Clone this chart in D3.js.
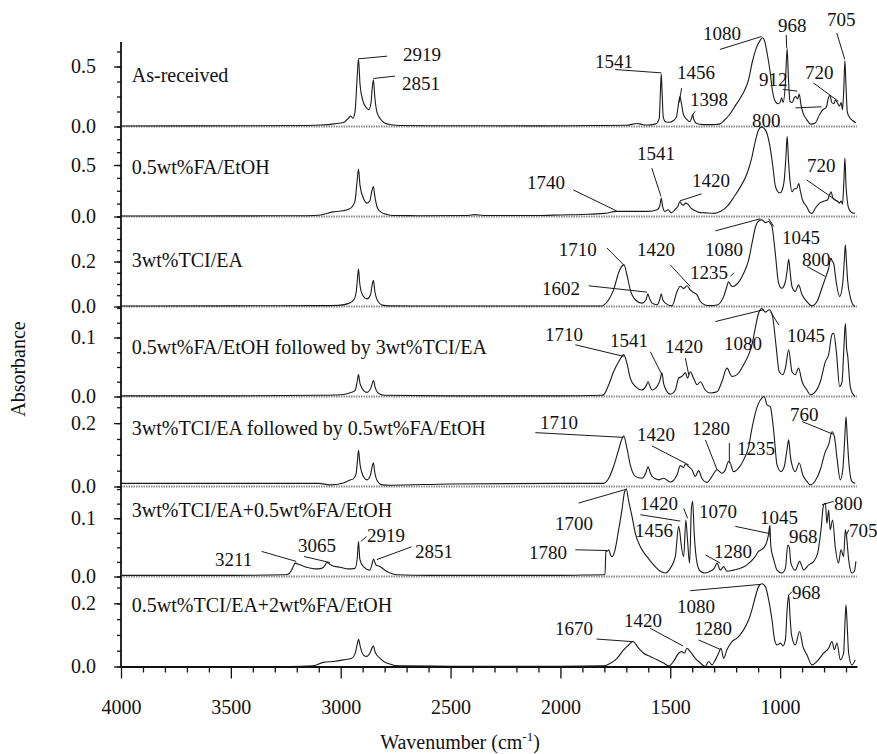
<!DOCTYPE html>
<html>
<head>
<meta charset="utf-8">
<script src="https://cdn.jsdelivr.net/npm/d3@7"></script>
<style>
  body { margin: 0; background: #fff; }
  svg { display: block; font-family: "Liberation Serif", "Times New Roman", serif; }
</style>
</head>
<body>
<svg id="chart" width="877" height="754"></svg>
<script>
// ---------- data ----------
const sampleNames = [
  "As-received",
  "0.5wt%FA/EtOH",
  "3wt%TCI/EA",
  "0.5wt%FA/EtOH followed by 3wt%TCI/EA",
  "3wt%TCI/EA followed by 0.5wt%FA/EtOH",
  "3wt%TCI/EA+0.5wt%FA/EtOH",
  "0.5wt%TCI/EA+2wt%FA/EtOH"
];

// absorbance shown at the top of each stacked panel
const panelMaxAbs = [0.75, 0.874, 0.4, 0.1525, 0.284, 0.1544, 0.285];
// labelled absorbance tick (besides 0.0) in each panel
const panelLabelTick = [0.5, 0.5, 0.2, 0.1, 0.2, 0.1, 0.2];
// minor tick step in each panel
const panelMinorStep = [0.125, 0.125, 0.05, 0.025, 0.05, 0.025, 0.05];
// where each sample name sits: [wavenumber, absorbance]
const sampleNameAt = [
  [3951, 0.43], [3951, 0.483], [3951, 0.207], [3951, 0.0844],
  [3951, 0.184], [3951, 0.114], [3951, 0.195]
];

const wavenumberDomain = [4000, 650];
const wavenumberMajorTicks = [4000, 3500, 3000, 2500, 2000, 1500, 1000];

// spectra: [wavenumber (cm-1), absorbance]
const specAsReceived = [
  [4000,0.004],[3700,0.005],[3400,0.006],[3150,0.008],[3090,0.012],[3030,0.022],[2985,0.035],[2962,0.075],
  [2955,0.088],[2945,0.07],[2935,0.12],[2926,0.38],[2919,0.565],[2912,0.35],[2900,0.22],[2885,0.16],
  [2872,0.14],[2862,0.2],[2856,0.33],[2851,0.39],[2845,0.25],[2835,0.12],[2820,0.065],[2800,0.03],
  [2770,0.015],[2730,0.008],[2500,0.006],[2300,0.006],[2100,0.005],[1850,0.008],[1700,0.01],[1650,0.025],
  [1635,0.02],[1610,0.012],[1565,0.022],[1550,0.07],[1545,0.28],[1541,0.44],[1537,0.28],[1532,0.08],
  [1522,0.04],[1505,0.035],[1485,0.05],[1472,0.08],[1463,0.18],[1456,0.25],[1450,0.2],[1440,0.1],
  [1425,0.06],[1410,0.04],[1403,0.07],[1398,0.1],[1393,0.06],[1380,0.025],[1350,0.016],[1300,0.016],
  [1275,0.02],[1255,0.05],[1230,0.1],[1205,0.17],[1180,0.24],[1165,0.29],[1145,0.38],[1125,0.55],
  [1105,0.67],[1090,0.72],[1080,0.74],[1070,0.71],[1058,0.6],[1045,0.45],[1035,0.3],[1022,0.21],
  [1010,0.19],[1000,0.2],[993,0.24],[986,0.2],[976,0.36],[968,0.65],[962,0.4],[955,0.21],
  [945,0.2],[935,0.24],[928,0.25],[920,0.23],[913,0.27],[905,0.18],[895,0.11],[880,0.06],
  [860,0.02],[840,0.03],[820,0.1],[805,0.14],[790,0.16],[780,0.24],[773,0.26],[765,0.2],
  [755,0.19],[748,0.22],[740,0.2],[730,0.17],[722,0.2],[716,0.14],[710,0.32],[705,0.55],
  [700,0.33],[694,0.12],[685,0.08],[670,0.05],[655,0.03]
];
const specFA = [
  [4000,0.005],[3500,0.006],[3150,0.008],[3100,0.012],[3034,0.045],[2990,0.055],[2965,0.07],[2950,0.09],
  [2935,0.15],[2926,0.33],[2919,0.46],[2912,0.3],[2895,0.17],[2880,0.13],[2868,0.15],[2858,0.25],
  [2851,0.29],[2845,0.2],[2832,0.08],[2815,0.04],[2790,0.02],[2760,0.01],[2650,0.008],[2420,0.01],
  [2390,0.018],[2350,0.01],[2100,0.01],[2000,0.015],[1900,0.02],[1800,0.03],[1745,0.05],[1700,0.05],
  [1600,0.05],[1560,0.065],[1548,0.1],[1541,0.18],[1535,0.1],[1525,0.05],[1510,0.065],[1495,0.035],
  [1480,0.065],[1465,0.1],[1456,0.145],[1448,0.12],[1440,0.11],[1430,0.13],[1420,0.12],[1405,0.08],
  [1390,0.06],[1370,0.04],[1340,0.035],[1300,0.03],[1270,0.05],[1240,0.1],[1210,0.19],[1180,0.29],
  [1150,0.42],[1128,0.58],[1112,0.74],[1098,0.84],[1085,0.87],[1075,0.86],[1062,0.82],[1048,0.7],
  [1035,0.52],[1022,0.3],[1010,0.24],[1000,0.23],[990,0.26],[980,0.38],[973,0.6],[968,0.78],
  [962,0.55],[955,0.35],[945,0.24],[935,0.27],[925,0.27],[915,0.32],[908,0.25],[898,0.16],
  [880,0.1],[865,0.04],[855,0.03],[840,0.08],[820,0.13],[800,0.15],[785,0.16],[775,0.21],
  [768,0.24],[760,0.18],[750,0.16],[740,0.15],[730,0.13],[722,0.15],[716,0.12],[710,0.33],
  [705,0.57],[700,0.3],[695,0.17],[688,0.08],[675,0.04],[660,0.03]
];
const specTCI = [
  [4000,0.002],[3500,0.003],[3100,0.004],[3010,0.005],[2960,0.015],[2940,0.03],[2930,0.06],[2924,0.12],
  [2919,0.167],[2913,0.1],[2900,0.05],[2880,0.034],[2865,0.05],[2856,0.1],[2851,0.116],[2845,0.07],
  [2830,0.022],[2810,0.006],[2780,0.003],[2500,0.002],[2000,0.002],[1811,0.002],[1803,0.006],[1780,0.03],
  [1758,0.074],[1735,0.15],[1720,0.18],[1710,0.185],[1697,0.14],[1682,0.074],[1659,0.03],[1629,0.015],
  [1610,0.03],[1602,0.056],[1594,0.035],[1583,0.015],[1560,0.008],[1548,0.03],[1541,0.056],[1534,0.03],
  [1522,0.015],[1492,0.003],[1469,0.067],[1454,0.09],[1439,0.08],[1424,0.092],[1409,0.074],[1394,0.062],
  [1378,0.052],[1363,0.022],[1341,0.007],[1318,0.004],[1287,0.007],[1257,0.044],[1242,0.09],[1235,0.11],
  [1225,0.095],[1215,0.089],[1196,0.1],[1166,0.148],[1143,0.207],[1128,0.28],[1113,0.35],[1098,0.38],
  [1083,0.385],[1067,0.373],[1052,0.378],[1045,0.37],[1037,0.356],[1022,0.237],[1007,0.104],[992,0.081],
  [976,0.11],[968,0.16],[961,0.21],[954,0.15],[946,0.089],[931,0.067],[916,0.096],[900,0.052],
  [878,0.022],[855,0.003],[832,0.022],[810,0.081],[794,0.126],[779,0.17],[769,0.215],[762,0.2],
  [756,0.19],[744,0.104],[729,0.044],[715,0.104],[708,0.2],[703,0.274],[698,0.2],[693,0.12],
  [681,0.044],[670,0.01],[658,0.0]
];
const specFAthenTCI = [
  [4000,0.001],[3500,0.001],[3100,0.002],[3000,0.003],[2960,0.006],[2935,0.01],[2925,0.025],[2919,0.037],
  [2912,0.022],[2895,0.01],[2880,0.007],[2862,0.015],[2851,0.027],[2843,0.015],[2830,0.006],[2800,0.002],
  [2500,0.001],[2000,0.001],[1811,0.002],[1803,0.003],[1780,0.02],[1758,0.042],[1735,0.059],[1720,0.068],
  [1712,0.071],[1697,0.056],[1682,0.031],[1659,0.017],[1629,0.011],[1610,0.018],[1601,0.025],[1592,0.017],
  [1583,0.011],[1560,0.017],[1545,0.03],[1538,0.04],[1530,0.022],[1526,0.017],[1500,0.004],[1477,0.011],
  [1462,0.031],[1447,0.034],[1431,0.04],[1421,0.031],[1409,0.042],[1394,0.031],[1378,0.02],[1363,0.025],
  [1341,0.011],[1318,0.006],[1287,0.008],[1265,0.025],[1242,0.048],[1219,0.034],[1196,0.037],[1166,0.054],
  [1143,0.071],[1128,0.088],[1113,0.116],[1098,0.141],[1083,0.149],[1067,0.143],[1048,0.147],[1033,0.133],
  [1019,0.088],[1004,0.042],[987,0.037],[976,0.048],[961,0.079],[946,0.042],[931,0.037],[916,0.048],
  [900,0.025],[878,0.011],[863,0.003],[840,0.008],[817,0.025],[794,0.059],[779,0.071],[764,0.105],
  [756,0.107],[744,0.076],[729,0.017],[718,0.025],[710,0.08],[703,0.124],[697,0.08],[693,0.071],
  [681,0.017],[670,0.005],[658,0.0]
];
const specTCIthenFA = [
  [4000,0.01],[3500,0.01],[3100,0.01],[3049,0.005],[2988,0.011],[2960,0.02],[2943,0.024],[2930,0.04],
  [2924,0.08],[2919,0.114],[2912,0.07],[2895,0.03],[2880,0.021],[2865,0.035],[2856,0.065],[2851,0.075],
  [2845,0.045],[2830,0.014],[2810,0.005],[2780,0.004],[2500,0.008],[2000,0.01],[1803,0.01],[1780,0.026],
  [1758,0.063],[1735,0.116],[1720,0.15],[1712,0.16],[1697,0.12],[1682,0.068],[1659,0.032],[1629,0.026],
  [1610,0.045],[1601,0.063],[1592,0.045],[1583,0.032],[1553,0.021],[1530,0.026],[1500,0.014],[1469,0.037],
  [1454,0.066],[1440,0.06],[1431,0.07],[1416,0.063],[1401,0.053],[1386,0.032],[1371,0.05],[1356,0.026],
  [1333,0.013],[1310,0.032],[1287,0.053],[1265,0.042],[1249,0.053],[1235,0.079],[1228,0.075],[1212,0.047],
  [1189,0.058],[1166,0.084],[1143,0.126],[1128,0.184],[1113,0.231],[1098,0.263],[1083,0.279],[1072,0.284],
  [1060,0.258],[1045,0.252],[1029,0.174],[1014,0.068],[996,0.047],[981,0.063],[968,0.12],[961,0.147],
  [954,0.1],[946,0.068],[931,0.047],[913,0.074],[897,0.037],[878,0.016],[863,0.005],[840,0.018],
  [817,0.053],[794,0.11],[779,0.132],[764,0.173],[753,0.158],[741,0.089],[726,0.021],[714,0.058],
  [706,0.15],[700,0.22],[694,0.15],[688,0.084],[673,0.016],[658,0.01]
];
const specMixA = [
  [4000,0.002],[3500,0.002],[3260,0.003],[3240,0.004],[3225,0.01],[3215,0.018],[3208,0.023],[3185,0.02],
  [3155,0.016],[3117,0.013],[3087,0.014],[3070,0.02],[3064,0.024],[3045,0.02],[3034,0.018],[3003,0.016],
  [2965,0.013],[2935,0.014],[2925,0.03],[2919,0.06],[2913,0.03],[2897,0.017],[2867,0.011],[2858,0.02],
  [2851,0.03],[2840,0.02],[2821,0.017],[2791,0.009],[2745,0.003],[2600,0.002],[2000,0.002],[1803,0.003],
  [1797,0.003],[1793,0.043],[1785,0.044],[1780,0.046],[1772,0.037],[1765,0.034],[1753,0.043],[1735,0.08],
  [1720,0.114],[1708,0.145],[1700,0.15],[1690,0.131],[1674,0.103],[1659,0.074],[1636,0.051],[1606,0.034],
  [1576,0.02],[1545,0.009],[1523,0.006],[1500,0.014],[1477,0.034],[1462,0.086],[1456,0.075],[1451,0.057],
  [1439,0.034],[1429,0.097],[1421,0.06],[1412,0.023],[1404,0.114],[1398,0.129],[1391,0.074],[1378,0.023],
  [1363,0.009],[1341,0.006],[1318,0.009],[1300,0.014],[1287,0.023],[1272,0.011],[1257,0.017],[1242,0.009],
  [1212,0.011],[1181,0.014],[1151,0.02],[1120,0.031],[1098,0.043],[1075,0.049],[1060,0.06],[1052,0.074],
  [1048,0.086],[1042,0.051],[1029,0.029],[1014,0.011],[992,0.006],[976,0.014],[965,0.054],[958,0.05],
  [951,0.023],[931,0.011],[911,0.026],[893,0.011],[870,0.02],[847,0.026],[829,0.04],[814,0.08],
  [802,0.123],[794,0.126],[787,0.091],[779,0.114],[772,0.08],[761,0.097],[749,0.051],[734,0.023],
  [723,0.046],[711,0.034],[703,0.08],[698,0.07],[688,0.029],[673,0.006],[662,0.009],[655,0.026]
];
const specMixB = [
  [4000,0.0],[3500,0.0],[3231,0.0],[3125,0.002],[3079,0.013],[3034,0.016],[2988,0.021],[2950,0.026],
  [2935,0.04],[2925,0.07],[2919,0.086],[2910,0.06],[2895,0.035],[2882,0.032],[2865,0.045],[2855,0.062],
  [2851,0.065],[2843,0.045],[2821,0.026],[2791,0.011],[2730,0.002],[2500,0.001],[2000,0.001],[1803,0.002],
  [1773,0.01],[1742,0.026],[1712,0.053],[1689,0.068],[1670,0.079],[1644,0.058],[1621,0.042],[1591,0.032],
  [1560,0.021],[1530,0.011],[1507,0.002],[1485,0.016],[1462,0.042],[1447,0.047],[1436,0.042],[1424,0.058],
  [1409,0.047],[1386,0.026],[1363,0.011],[1341,0.0],[1325,0.016],[1310,0.005],[1295,0.021],[1280,0.042],
  [1269,0.058],[1257,0.026],[1242,0.053],[1219,0.079],[1196,0.09],[1166,0.116],[1143,0.148],[1128,0.18],
  [1113,0.22],[1098,0.253],[1083,0.262],[1067,0.253],[1052,0.211],[1037,0.148],[1025,0.084],[1014,0.068],
  [998,0.074],[987,0.065],[976,0.084],[968,0.18],[961,0.227],[954,0.15],[948,0.1],[931,0.068],
  [911,0.111],[896,0.063],[878,0.037],[855,0.005],[832,0.016],[802,0.042],[779,0.058],[764,0.079],
  [753,0.053],[741,0.074],[726,0.021],[711,0.042],[704,0.15],[700,0.195],[694,0.12],[688,0.042],
  [673,0.005],[658,0.021]
];
const spectra = [specAsReceived, specFA, specTCI, specFAthenTCI, specTCIthenFA, specMixA, specMixB];

// peak assignments: panel, text, text anchor [wavenumber, abs], leader polylines
const peakLabels = [
  {p:0, t:"2919", at:[2716,0.60],  lead:[[[2789,0.586],[2919,0.564]]]},
  {p:0, t:"2851", at:[2721,0.358], lead:[[[2753,0.42],[2851,0.40]]]},
  {p:0, t:"1541", at:[1842,0.544], lead:[[[1751,0.475],[1541,0.447]]]},
  {p:0, t:"1456", at:[1469,0.45],  lead:[[[1448,0.32],[1460,0.2]]]},
  {p:0, t:"1398", at:[1410,0.229], lead:[[[1387,0.127],[1400,0.09]]]},
  {p:0, t:"1080", at:[1351,0.78],  lead:[[[1274,0.642],[1085,0.75]]]},
  {p:0, t:"968",  at:[1010,0.846], lead:[[[972,0.763],[970,0.655]]]},
  {p:0, t:"912",  at:[1096,0.39],  lead:[[[988,0.31],[922,0.295]],[[930,0.155],[811,0.164]]]},
  {p:0, t:"720",  at:[887,0.448],  lead:[[[849,0.364],[735,0.21]]]},
  {p:0, t:"705",  at:[786,0.89],   lead:[[[742,0.78],[706,0.56]]]},

  {p:1, t:"1740", at:[2152,0.33],  lead:[[[1941,0.258],[1744,0.054]]]},
  {p:1, t:"1541", at:[1651,0.614], lead:[[[1584,0.469],[1542,0.194]]]},
  {p:1, t:"1420", at:[1401,0.355], lead:[[[1357,0.22],[1456,0.152]]]},
  {p:1, t:"800",  at:[1128,0.934], lead:[]},
  {p:1, t:"720",  at:[878,0.493],  lead:[[[879,0.355],[727,0.13]]]},

  {p:2, t:"1710", at:[2008,0.252], lead:[[[1788,0.26],[1712,0.185]]]},
  {p:2, t:"1602", at:[2084,0.082], lead:[[[1871,0.092],[1606,0.064]]]},
  {p:2, t:"1420", at:[1651,0.252], lead:[[[1500,0.185],[1409,0.089]]]},
  {p:2, t:"1235", at:[1410,0.152], lead:[[[1225,0.135],[1210,0.15]]]},
  {p:2, t:"1080", at:[1342,0.252], lead:[[[1295,0.336],[1090,0.39]]]},
  {p:2, t:"1045", at:[991,0.308],  lead:[[[1029,0.356],[1052,0.39]]]},
  {p:2, t:"800",  at:[900,0.21],   lead:[[[878,0.178],[794,0.133]]]},

  {p:3, t:"1710", at:[2070,0.105], lead:[[[1932,0.0876],[1712,0.068]]]},
  {p:3, t:"1541", at:[1774,0.095], lead:[[[1591,0.076],[1538,0.037]]]},
  {p:3, t:"1420", at:[1524,0.085], lead:[[[1431,0.065],[1416,0.037]]]},
  {p:3, t:"1080", at:[1255,0.09],  lead:[[[1295,0.127],[1075,0.147]]]},
  {p:3, t:"1045", at:[969,0.103],  lead:[[[1006,0.121],[1044,0.144]]]},

  {p:4, t:"1710", at:[2093,0.2025], lead:[[[2114,0.17],[1712,0.155]]]},
  {p:4, t:"1420", at:[1651,0.163],  lead:[[[1583,0.128],[1416,0.068]]]},
  {p:4, t:"1280", at:[1401,0.182],  lead:[[[1340,0.147],[1287,0.053]]]},
  {p:4, t:"1235", at:[1196,0.119],  lead:[[[1231,0.137],[1231,0.074]]]},
  {p:4, t:"760",  at:[955,0.229],   lead:[[[900,0.205],[759,0.165]]]},

  {p:5, t:"3211", at:[3572,0.030],  lead:[[[3360,0.043],[3203,0.026]]]},
  {p:5, t:"3065", at:[3194,0.054],  lead:[[[3167,0.0343],[3049,0.024]]]},
  {p:5, t:"2919", at:[2880,0.07],   lead:[[[2882,0.0686],[2909,0.06]]]},
  {p:5, t:"2851", at:[2662,0.044],  lead:[[[2677,0.051],[2836,0.029]]]},
  {p:5, t:"1700", at:[2025,0.0904], lead:[[[1917,0.126],[1697,0.15]]]},
  {p:5, t:"1780", at:[2143,0.0407], lead:[[[1932,0.0458],[1788,0.0446]]]},
  {p:5, t:"1420", at:[1638,0.125],  lead:[[[1439,0.117],[1421,0.1]]]},
  {p:5, t:"1456", at:[1660,0.08],   lead:[[[1636,0.106],[1454,0.095]]]},
  {p:5, t:"1070", at:[1369,0.111],  lead:[[[1204,0.086],[1052,0.074]]]},
  {p:5, t:"1045", at:[1091,0.102],  lead:[[[1046,0.088],[1046,0.068]]]},
  {p:5, t:"1280", at:[1301,0.043],  lead:[[[1340,0.037],[1272,0.023]]]},
  {p:5, t:"968",  at:[960,0.0686],  lead:[]},
  {p:5, t:"800",  at:[755,0.125],   lead:[[[756,0.129],[809,0.123]]]},
  {p:5, t:"705",  at:[686,0.08],    lead:[[[688,0.08],[700,0.069]]]},

  {p:6, t:"1670", at:[2025,0.122],  lead:[[[1836,0.087],[1670,0.0786]]]},
  {p:6, t:"1420", at:[1710,0.147],  lead:[[[1591,0.121],[1442,0.065]]]},
  {p:6, t:"1080", at:[1469,0.189],  lead:[[[1409,0.24],[1090,0.26]]]},
  {p:6, t:"1280", at:[1392,0.122],  lead:[[[1371,0.084],[1272,0.054]]]},
  {p:6, t:"968",  at:[946,0.236],   lead:[[[946,0.237],[961,0.226]]]}
];

// ---------- layout ----------
const plotLeft = 121, plotRight = 857;
const plotBottom = 666.5, panelHeight = 90, axisTop = 42;
const ink = "#111";

const svg = d3.select("#chart");

const x = d3.scaleLinear().domain(wavenumberDomain).range([plotLeft, plotRight]);

const nPanels = sampleNames.length;
const yScales = d3.range(nPanels).map(i => {
  const base = plotBottom - (nPanels - 1 - i) * panelHeight;
  return d3.scaleLinear().domain([0, panelMaxAbs[i]]).range([base, base - panelHeight]);
});

// dotted zero lines of each panel
yScales.slice(0, nPanels - 1).forEach(y => {
  svg.append("line")
    .attr("x1", plotLeft).attr("x2", plotRight)
    .attr("y1", y(0)).attr("y2", y(0))
    .attr("stroke", "#8a8a8a").attr("stroke-width", 2)
    .attr("stroke-dasharray", "1.5,1");
});

// spectra
const line = d3.line()
  .x(d => x(d[0]))
  .y(d => d[1])
  .curve(d3.curveMonotoneX);

spectra.forEach((s, i) => {
  const y = yScales[i];
  svg.append("path")
    .attr("d", line(s.map(d => [d[0], y(d[1])])))
    .attr("fill", "none")
    .attr("stroke", "#1a1a1a")
    .attr("stroke-width", 1.1)
    .attr("stroke-linejoin", "round");
});

// sample names
sampleNames.forEach((name, i) => {
  svg.append("text")
    .attr("x", x(sampleNameAt[i][0]))
    .attr("y", yScales[i](sampleNameAt[i][1]))
    .attr("dy", "0.35em")
    .attr("font-size", 20)
    .attr("fill", ink)
    .text(name);
});

// peak labels and leaders
const leaderLine = d3.line();
peakLabels.forEach(a => {
  const y = yScales[a.p];
  a.lead.forEach(pl => {
    svg.append("path")
      .attr("d", leaderLine(pl.map(d => [x(d[0]), y(d[1])])))
      .attr("fill", "none")
      .attr("stroke", "#1a1a1a")
      .attr("stroke-width", 1);
  });
  svg.append("text")
    .attr("x", x(a.at[0]))
    .attr("y", y(a.at[1]))
    .attr("dy", "0.35em")
    .attr("font-size", 19)
    .attr("fill", ink)
    .text(a.t);
});

// ---------- axes ----------
function styleAxis(g) {
  g.attr("font-family", null).attr("font-size", null);
  g.selectAll(".tick line").attr("stroke", ink).attr("stroke-width", 1.3);
  g.selectAll(".tick text").attr("fill", ink).attr("font-size", 20);
}

// left axis: one line, ticks per panel
svg.append("line")
  .attr("x1", plotLeft).attr("x2", plotLeft)
  .attr("y1", axisTop).attr("y2", plotBottom)
  .attr("stroke", ink).attr("stroke-width", 1.8);

yScales.forEach((y, i) => {
  const minor = d3.range(0, panelMaxAbs[i] + 1e-9, panelMinorStep[i])
    .filter(v => y(v) >= axisTop && y(v) <= plotBottom);
  const gMinor = svg.append("g").attr("transform", `translate(${plotLeft},0)`)
    .call(d3.axisLeft(y).tickValues(minor).tickSize(4).tickFormat(""));
  gMinor.select(".domain").remove();
  styleAxis(gMinor);

  const gMajor = svg.append("g").attr("transform", `translate(${plotLeft},0)`)
    .call(d3.axisLeft(y).tickValues([0, panelLabelTick[i]]).tickSize(7).tickPadding(18)
      .tickFormat(d3.format(".1f")));
  gMajor.select(".domain").remove();
  styleAxis(gMajor);
});

// bottom axis
const minorX = d3.range(3900, wavenumberDomain[1], -100).filter(v => v % 500 !== 0);
const gxMinor = svg.append("g").attr("transform", `translate(0,${plotBottom})`)
  .call(d3.axisBottom(x).tickValues(minorX).tickSize(6).tickFormat(""));
gxMinor.select(".domain").remove();
styleAxis(gxMinor);

const gx = svg.append("g").attr("transform", `translate(0,${plotBottom})`)
  .call(d3.axisBottom(x).tickValues(wavenumberMajorTicks).tickSize(12).tickSizeOuter(0)
    .tickPadding(21).tickFormat(d3.format("d")));
gx.select(".domain").attr("stroke", ink).attr("stroke-width", 1.8);
styleAxis(gx);

// axis titles
svg.append("text")
  .attr("transform", "translate(18,369) rotate(-90)")
  .attr("text-anchor", "middle")
  .attr("dy", "0.35em")
  .attr("font-size", 20)
  .attr("fill", ink)
  .text("Absorbance");

const xt = svg.append("text")
  .attr("x", 460).attr("y", 749)
  .attr("text-anchor", "middle")
  .attr("font-size", 20)
  .attr("fill", ink);
xt.append("tspan").text("Wavenumber (cm");
xt.append("tspan").attr("dy", -8).attr("font-size", 13).text("-1");
xt.append("tspan").attr("dy", 8).text(")");
</script>
</body>
</html>
